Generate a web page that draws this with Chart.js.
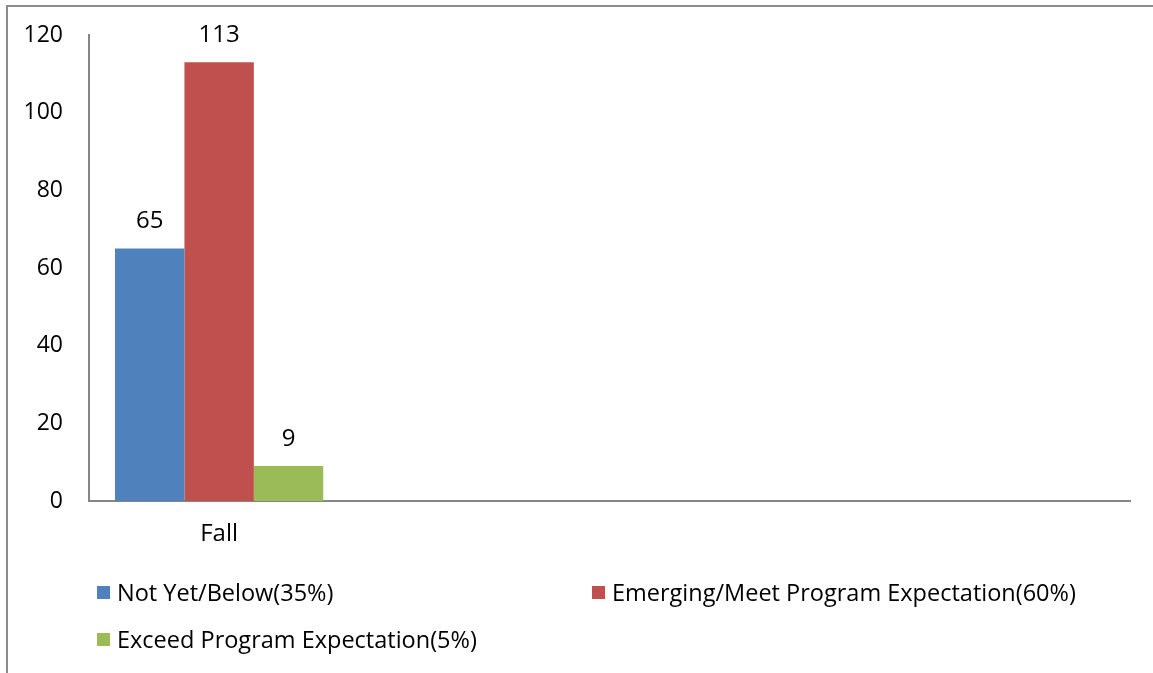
<!DOCTYPE html>
<html lang="en">
<head>
    <meta charset="UTF-8">
    <title>Fall</title>
    <script src="https://cdn.jsdelivr.net/npm/chart.js"></script>
    <style>
        html, body {
            margin: 0;
            padding: 0;
            width: 1153px;
            height: 673px;
            overflow: hidden;
            background: #fff;
            font-family: 'Open Sans', sans-serif;
        }
        .frame {
            position: absolute;
            left: 6px;
            top: 5px;
            width: 1200px;
            height: 700px;
            border-left: 2px solid #8c8c8c;
            border-top: 2px solid #8c8c8c;
        }
        #chartWrap {
            position: absolute;
            left: 0;
            top: 0;
            width: 1153px;
            height: 673px;
        }
        .legend-item {
            position: absolute;
            display: flex;
            align-items: center;
            font-size: 23.5px;
            color: #000;
            white-space: nowrap;
            line-height: 28px;
        }
        .legend-item span {
            display: inline-block;
            width: 13px;
            height: 13px;
            margin-right: 7px;
        }
    </style>
</head>
<body>
    <div class="frame"></div>
    <div id="chartWrap"><canvas id="barChart"></canvas></div>
    <div id="legend"></div>

    <script>
        const categories = ['Fall', '', '', ''];
        const seriesNames = ['Not Yet/Below(35%)', 'Emerging/Meet Program Expectation(60%)', 'Exceed Program Expectation(5%)'];
        const notYet = [65, null, null, null];
        const emerging = [113, null, null, null];
        const exceed = [9, null, null, null];
        const yTicks = [0, 20, 40, 60, 80, 100, 120];

        const colors = ['#4F81BD', '#C0504D', '#9BBB59'];
        const axisColor = '#868686';
        const font = { family: "'Open Sans', sans-serif", size: 23 };

        // 棒の上に値を描く
        const valueLabels = {
            id: 'valueLabels',
            afterDatasetsDraw(chart) {
                const ctx = chart.ctx;
                ctx.save();
                ctx.font = `24px ${font.family}`;
                ctx.fillStyle = '#000';
                ctx.textAlign = 'center';
                ctx.textBaseline = 'middle';
                chart.data.datasets.forEach((ds, i) => {
                    chart.getDatasetMeta(i).data.forEach((bar, j) => {
                        const v = ds.data[j];
                        if (v === null || v === undefined) return;
                        ctx.fillText(v, bar.x, bar.y - 27);
                    });
                });
                ctx.restore();
            }
        };

        new Chart(document.getElementById('barChart'), {
            type: 'bar',
            data: {
                labels: categories,
                datasets: [notYet, emerging, exceed].map((d, i) => ({
                    label: seriesNames[i],
                    data: d,
                    backgroundColor: colors[i],
                    categoryPercentage: 0.8,
                    barPercentage: 1.0
                }))
            },
            options: {
                responsive: true,
                maintainAspectRatio: false,
                animation: false,
                layout: { padding: { left: 0, top: 35, right: 23, bottom: 122 } },
                plugins: {
                    legend: { display: false },
                    tooltip: { enabled: false }
                },
                scales: {
                    x: {
                        grid: { display: false, drawTicks: false },
                        border: { display: true, color: axisColor, width: 2 },
                        ticks: { color: '#000', font: { family: font.family, size: 24 }, padding: 19, maxRotation: 0 },
                        afterFit(scale) { scale.height = 50; scale.paddingLeft = 0; scale.paddingRight = 0; }
                    },
                    y: {
                        min: 0,
                        max: 120,
                        grid: { display: false, drawTicks: false },
                        border: { display: true, color: axisColor, width: 2 },
                        afterBuildTicks(scale) { scale.ticks = yTicks.map(v => ({ value: v })); },
                        ticks: { color: '#000', font: font, padding: 26 },
                        afterFit(scale) { scale.width = 89; scale.paddingTop = 0; scale.paddingBottom = 0; }
                    }
                }
            },
            plugins: [valueLabels]
        });

        // 凡例
        const legendPos = [[97, 578], [592, 578], [97, 625]];
        const legend = document.getElementById('legend');
        seriesNames.forEach((name, i) => {
            legend.innerHTML += `<div class="legend-item" style="left:${legendPos[i][0]}px;top:${legendPos[i][1]}px"><span style="background:${colors[i]}"></span>${name}</div>`;
        });
    </script>
</body>
</html>
